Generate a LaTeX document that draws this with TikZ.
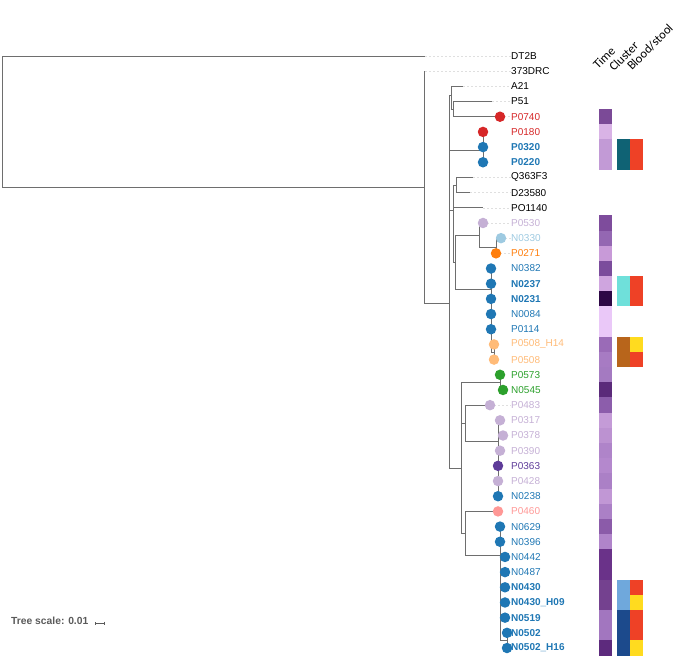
\documentclass[tikz,border=0pt]{standalone}
\usepackage{fontspec}
\setmainfont{Liberation Sans}
\newfontfamily\headfont{Carlito}
\usetikzlibrary{arrows.meta}
\definecolor{treegray}{HTML}{6E6E6E}
\definecolor{scalegray}{HTML}{5A5A5A}
\definecolor{tblue}{HTML}{1F77B4}
\definecolor{tred}{HTML}{D62728}
\definecolor{torange}{HTML}{FF7F0E}
\definecolor{tlorange}{HTML}{FFBB78}
\definecolor{tgreen}{HTML}{2CA02C}
\definecolor{tlpurple}{HTML}{C5B0D5}
\definecolor{tpurple}{HTML}{5E3C99}
\definecolor{tlblue}{HTML}{9ECAE1}
\definecolor{tpink}{HTML}{FF9896}
\definecolor{bloodred}{HTML}{EE4126}
\definecolor{stoolyellow}{HTML}{FFDB1F}
\begin{document}
\begin{tikzpicture}[x=1pt,y=-1pt]
  \tikzstyle{branch}=[draw,treegray,line width=0.9pt]
  \tikzstyle{leader}=[draw,gray!25,dash pattern=on 2pt off 2pt,line width=0.5pt]
  \tikzstyle{tipdot}=[circle,inner sep=0pt,minimum size=10.5pt]
  \tikzstyle{leaf}=[anchor=west,inner sep=0pt,font=\fontsize{10}{12}\selectfont]
  \tikzstyle{bold leaf}=[leaf,font=\fontsize{10}{12}\selectfont\bfseries]
  \tikzstyle{cell}=[inner sep=0pt,minimum width=13pt,minimum height=15.3pt]
  \tikzstyle{head}=[rotate=45,anchor=base west,inner sep=0pt,font=\headfont\fontsize{12.5}{14}\selectfont]
  \useasboundingbox (0,0) rectangle (680,658);
  % inner nodes of the tree
  \coordinate (root) at (2,121.5);
  \coordinate (n1) at (424,187);
  \coordinate (n2) at (449,303);
  \coordinate (a1) at (451,95);
  \coordinate (a2) at (453,109);
  \coordinate (c1) at (483,150);
  \coordinate (b1) at (453,210);
  \coordinate (qd) at (456,185);
  \coordinate (b2) at (455,262);
  \coordinate (c2) at (479,235);
  \coordinate (c3) at (496,247);
  \coordinate (cl) at (491,289);
  \coordinate (pp) at (494,352);
  \coordinate (L) at (461,468);
  \coordinate (g1) at (500,382);
  \coordinate (K) at (465,423);
  \coordinate (K2) at (498,441);
  \coordinate (M) at (465,533);
  \coordinate (M2) at (500,555);
  \coordinate (M3) at (507,640);
  % tips
  \coordinate (tDT2B) at (425,56);
  \coordinate (tDRC373) at (425,71.18);
  \coordinate (tA21) at (463,86.36);
  \coordinate (tP51) at (492,101.54);
  \coordinate (tP0740) at (500,116.72);
  \coordinate (tP0180) at (483,131.9);
  \coordinate (tP0320) at (483,147.08);
  \coordinate (tP0220) at (483,162.26);
  \coordinate (tQ363F3) at (473,177.44);
  \coordinate (tD23580) at (470,192.62);
  \coordinate (tPO1140) at (483,207.8);
  \coordinate (tP0530) at (483,222.98);
  \coordinate (tN0330) at (501,238.16);
  \coordinate (tP0271) at (496,253.34);
  \coordinate (tN0382) at (491,268.52);
  \coordinate (tN0237) at (491,283.7);
  \coordinate (tN0231) at (491,298.88);
  \coordinate (tN0084) at (491,314.06);
  \coordinate (tP0114) at (491,329.24);
  \coordinate (tP0508H14) at (494,344.42);
  \coordinate (tP0508) at (494,359.6);
  \coordinate (tP0573) at (500,374.78);
  \coordinate (tN0545) at (503,389.96);
  \coordinate (tP0483) at (490,405.14);
  \coordinate (tP0317) at (500,420.32);
  \coordinate (tP0378) at (503,435.5);
  \coordinate (tP0390) at (500,450.68);
  \coordinate (tP0363) at (498,465.86);
  \coordinate (tP0428) at (498,481.04);
  \coordinate (tN0238) at (498,496.22);
  \coordinate (tP0460) at (498,511.4);
  \coordinate (tN0629) at (500,526.58);
  \coordinate (tN0396) at (500,541.76);
  \coordinate (tN0442) at (505,556.94);
  \coordinate (tN0487) at (505,572.12);
  \coordinate (tN0430) at (505,587.3);
  \coordinate (tN0430H09) at (505,602.48);
  \coordinate (tN0519) at (505,617.66);
  \coordinate (tN0502) at (507,632.84);
  \coordinate (tN0502H16) at (507,648.02);
  % branches
  \path[branch] (root) |- (tDT2B);
  \path[branch] (root) |- (n1);
  \path[branch] (n1) |- (tDRC373);
  \path[branch] (n1) |- (n2);
  \path[branch] (n2) |- (a1);
  \path[branch] (n2) |- (c1);
  \path[branch] (n2) |- (b1);
  \path[branch] (n2) |- (L);
  \path[branch] (a1) |- (tA21);
  \path[branch] (a1) |- (a2);
  \path[branch] (a2) |- (tP51);
  \path[branch] (a2) |- (tP0740);
  \path[branch] (c1) |- (tP0180);
  \path[branch] (c1) |- (tP0220);
  \path[branch] (b1) |- (qd);
  \path[branch] (b1) |- (tPO1140);
  \path[branch] (b1) |- (b2);
  \path[branch] (qd) |- (tQ363F3);
  \path[branch] (qd) |- (tD23580);
  \path[branch] (b2) |- (c2);
  \path[branch] (b2) |- (cl);
  \path[branch] (c2) |- (tP0530);
  \path[branch] (c2) |- (c3);
  \path[branch] (c3) |- (tN0330);
  \path[branch] (c3) |- (tP0271);
  \path[branch] (cl) |- (tN0382);
  \path[branch] (cl) |- (pp);
  \path[branch] (pp) |- (tP0508H14);
  \path[branch] (pp) |- (tP0508);
  \path[branch] (L) |- (g1);
  \path[branch] (L) |- (K);
  \path[branch] (L) |- (M);
  \path[branch] (g1) |- (tP0573);
  \path[branch] (g1) |- (tN0545);
  \path[branch] (K) |- (tP0483);
  \path[branch] (K) |- (K2);
  \path[branch] (K2) |- (tP0317);
  \path[branch] (K2) |- (tP0378);
  \path[branch] (K2) |- (tN0238);
  \path[branch] (M) |- (tP0460);
  \path[branch] (M) |- (M2);
  \path[branch] (M2) |- (tN0629);
  \path[branch] (M2) |- (tN0442);
  \path[branch] (M2) |- (tN0519);
  \path[branch] (M2) |- (M3);
  \path[branch] (M3) |- (tN0502);
  \path[branch] (M3) |- (tN0502H16);
  % leaf labels
  \node[leaf] (DT2B) at (511,56) {DT2B};
  \node[leaf] (DRC373) at (511,71.18) {373DRC};
  \node[leaf] (A21) at (511,86.36) {A21};
  \node[leaf] (P51) at (511,101.54) {P51};
  \node[leaf,tred] (P0740) at (511,116.72) {P0740};
  \node[leaf,tred] (P0180) at (511,131.9) {P0180};
  \node[bold leaf,tblue] (P0320) at (511,147.08) {P0320};
  \node[bold leaf,tblue] (P0220) at (511,162.26) {P0220};
  \node[leaf] (Q363F3) at (511,177.44) {Q363F3};
  \node[leaf] (D23580) at (511,192.62) {D23580};
  \node[leaf] (PO1140) at (511,207.8) {PO1140};
  \node[leaf,tlpurple] (P0530) at (511,222.98) {P0530};
  \node[leaf,tlblue] (N0330) at (511,238.16) {N0330};
  \node[leaf,torange] (P0271) at (511,253.34) {P0271};
  \node[leaf,tblue] (N0382) at (511,268.52) {N0382};
  \node[bold leaf,tblue] (N0237) at (511,283.7) {N0237};
  \node[bold leaf,tblue] (N0231) at (511,298.88) {N0231};
  \node[leaf,tblue] (N0084) at (511,314.06) {N0084};
  \node[leaf,tblue] (P0114) at (511,329.24) {P0114};
  \node[leaf,tlorange] (P0508H14) at (511,344.42) {P0508\_H14};
  \node[leaf,tlorange] (P0508) at (511,359.6) {P0508};
  \node[leaf,tgreen] (P0573) at (511,374.78) {P0573};
  \node[leaf,tgreen] (N0545) at (511,389.96) {N0545};
  \node[leaf,tlpurple] (P0483) at (511,405.14) {P0483};
  \node[leaf,tlpurple] (P0317) at (511,420.32) {P0317};
  \node[leaf,tlpurple] (P0378) at (511,435.5) {P0378};
  \node[leaf,tlpurple] (P0390) at (511,450.68) {P0390};
  \node[leaf,tpurple] (P0363) at (511,465.86) {P0363};
  \node[leaf,tlpurple] (P0428) at (511,481.04) {P0428};
  \node[leaf,tblue] (N0238) at (511,496.22) {N0238};
  \node[leaf,tpink] (P0460) at (511,511.4) {P0460};
  \node[leaf,tblue] (N0629) at (511,526.58) {N0629};
  \node[leaf,tblue] (N0396) at (511,541.76) {N0396};
  \node[leaf,tblue] (N0442) at (511,556.94) {N0442};
  \node[leaf,tblue] (N0487) at (511,572.12) {N0487};
  \node[bold leaf,tblue] (N0430) at (511,587.3) {N0430};
  \node[bold leaf,tblue] (N0430H09) at (511,602.48) {N0430\_H09};
  \node[bold leaf,tblue] (N0519) at (511,617.66) {N0519};
  \node[bold leaf,tblue] (N0502) at (511,632.84) {N0502};
  \node[bold leaf,tblue] (N0502H16) at (511,648.02) {N0502\_H16};
  % dashed leaders from tips to labels
  \foreach \n in {DT2B,DRC373,A21,P51,P0740,Q363F3,D23580,PO1140,P0530,N0330,P0271,P0483}
    \path[leader] (t\n) -- (\n.west);
  % coloured tips
  \node[tipdot,fill=tred] (dP0740) at (tP0740) {};
  \node[tipdot,fill=tred] (dP0180) at (tP0180) {};
  \node[tipdot,fill=tblue] (dP0320) at (tP0320) {};
  \node[tipdot,fill=tblue] (dP0220) at (tP0220) {};
  \node[tipdot,fill=tlpurple] (dP0530) at (tP0530) {};
  \node[tipdot,fill=tlblue] (dN0330) at (tN0330) {};
  \node[tipdot,fill=torange] (dP0271) at (tP0271) {};
  \node[tipdot,fill=tblue] (dN0382) at (tN0382) {};
  \node[tipdot,fill=tblue] (dN0237) at (tN0237) {};
  \node[tipdot,fill=tblue] (dN0231) at (tN0231) {};
  \node[tipdot,fill=tblue] (dN0084) at (tN0084) {};
  \node[tipdot,fill=tblue] (dP0114) at (tP0114) {};
  \node[tipdot,fill=tlorange] (dP0508H14) at (tP0508H14) {};
  \node[tipdot,fill=tlorange] (dP0508) at (tP0508) {};
  \node[tipdot,fill=tgreen] (dP0573) at (tP0573) {};
  \node[tipdot,fill=tgreen] (dN0545) at (tN0545) {};
  \node[tipdot,fill=tlpurple] (dP0483) at (tP0483) {};
  \node[tipdot,fill=tlpurple] (dP0317) at (tP0317) {};
  \node[tipdot,fill=tlpurple] (dP0378) at (tP0378) {};
  \node[tipdot,fill=tlpurple] (dP0390) at (tP0390) {};
  \node[tipdot,fill=tpurple] (dP0363) at (tP0363) {};
  \node[tipdot,fill=tlpurple] (dP0428) at (tP0428) {};
  \node[tipdot,fill=tblue] (dN0238) at (tN0238) {};
  \node[tipdot,fill=tpink] (dP0460) at (tP0460) {};
  \node[tipdot,fill=tblue] (dN0629) at (tN0629) {};
  \node[tipdot,fill=tblue] (dN0396) at (tN0396) {};
  \node[tipdot,fill=tblue] (dN0442) at (tN0442) {};
  \node[tipdot,fill=tblue] (dN0487) at (tN0487) {};
  \node[tipdot,fill=tblue] (dN0430) at (tN0430) {};
  \node[tipdot,fill=tblue] (dN0430H09) at (tN0430H09) {};
  \node[tipdot,fill=tblue] (dN0519) at (tN0519) {};
  \node[tipdot,fill=tblue] (dN0502) at (tN0502) {};
  \node[tipdot,fill=tblue] (dN0502H16) at (tN0502H16) {};
  % Time column
  \foreach \r/\c in {4/7B4A97,5/D9B3E6,6/C29AD6,7/C29AD6,11/7E4C9C,12/9467B2,13/C89AD8,
                     14/7B4C9C,15/CFA5DF,16/2D0845,17/EAC8F8,18/EAC8F8,19/9A6BB7,20/A77BC3,
                     21/A47AC1,22/5B2A7A,23/8C5DAB,24/C49BD7,25/BC92D1,26/AF84C9,27/B488CD,
                     28/AB80C6,29/C197D5,30/AB80C6,31/8B5BA9,32/B084CA,33/6A3289,34/6A3289,
                     35/74418F,36/74418F,37/A276BF,38/A276BF,39/5D2A7D}{
    \definecolor{timecol}{HTML}{\c}
    \node[cell,fill=timecol] (time\r) at (605.8,{56+15.18*\r}) {};
  }
  % Cluster column
  \node[cell,minimum height=30.4pt,fill={rgb,255:red,15;green,98;blue,116}] (cP0320) at (623.5,154.67) {};
  \node[cell,minimum height=30.4pt,fill={rgb,255:red,111;green,224;blue,218}] (cN0237) at (623.5,291.29) {};
  \node[cell,minimum height=30.4pt,fill={rgb,255:red,184;green,101;blue,27}] (cP0508) at (623.5,352.01) {};
  \node[cell,minimum height=30.4pt,fill={rgb,255:red,111;green,168;blue,220}] (cN0430) at (623.5,594.89) {};
  \node[cell,minimum height=45.6pt,fill={rgb,255:red,28;green,74;blue,140}] (cN0519) at (623.5,632.84) {};
  % Blood/stool column
  \node[cell,minimum height=30.4pt,fill=bloodred] (bP0320) at (636.5,154.67) {};
  \node[cell,minimum height=30.4pt,fill=bloodred] (bN0237) at (636.5,291.29) {};
  \node[cell,fill=stoolyellow] (bP0508H14) at (636.5,344.42) {};
  \node[cell,fill=bloodred] (bP0508) at (636.5,359.6) {};
  \node[cell,fill=bloodred] (bN0430) at (636.5,587.3) {};
  \node[cell,fill=stoolyellow] (bN0430H09) at (636.5,602.48) {};
  \node[cell,minimum height=30.4pt,fill=bloodred] (bN0519) at (636.5,625.25) {};
  \node[cell,fill=stoolyellow] (bN0502H16) at (636.5,648.02) {};
  % column heads
  \node[head] (hTime) at (598,70) {Time};
  \node[head] (hCluster) at (614,72) {Cluster};
  \node[head] (hBlood) at (632,71) {Blood/stool};
  % scale
  \node[anchor=west,inner sep=0pt,text=scalegray,font=\fontsize{10.3}{12}\selectfont\bfseries] (treescale) at (11,621) {Tree scale: 0.01};
  \coordinate (sbl) at (95,623);
  \coordinate (sbr) at (105,623);
  \draw[scalegray,line width=0.6pt,{Bar[width=3pt]}-{Bar[width=3pt]}] (sbl) -- (sbr);
\end{tikzpicture}
\end{document}
